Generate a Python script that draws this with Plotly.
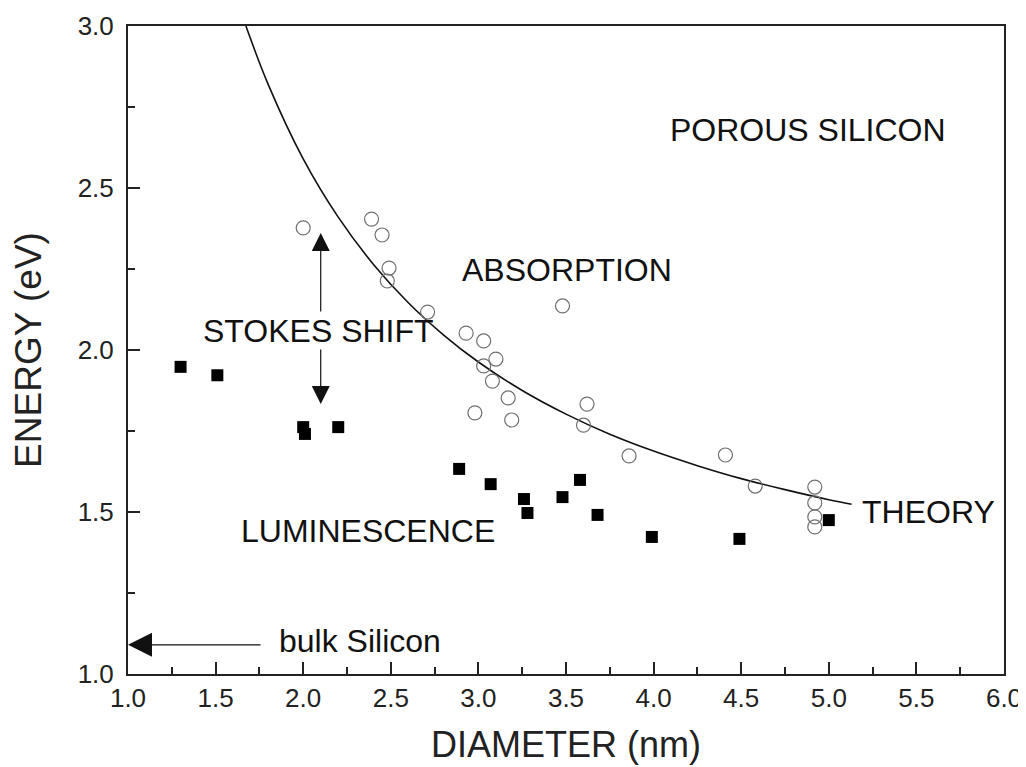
import plotly.graph_objects as go

FONT = "Arial, Liberation Sans, sans-serif"

# Luminescence (filled squares)
lum_d = [1.30, 1.51, 2.00, 2.01, 2.20, 2.89, 3.07, 3.26, 3.28, 3.48, 3.58, 3.68, 3.99, 4.49, 5.00]
lum_e = [1.948, 1.922, 1.762, 1.741, 1.762, 1.633, 1.586, 1.540, 1.497, 1.546, 1.599, 1.491, 1.423, 1.417, 1.475]

# Absorption (open circles)
abs_d = [2.00, 2.39, 2.45, 2.49, 2.48, 2.71, 2.93, 3.03, 3.10, 3.03, 3.08, 3.17, 2.98, 3.19,
         3.48, 3.62, 3.60, 3.86, 4.41, 4.58, 4.92, 4.92, 4.92, 4.92]
abs_e = [2.377, 2.404, 2.355, 2.253, 2.213, 2.117, 2.052, 2.028, 1.972, 1.951, 1.904, 1.852, 1.806, 1.784,
         2.136, 1.833, 1.768, 1.673, 1.676, 1.580, 1.577, 1.528, 1.485, 1.454]

# Theory curve
th_d = [1.673, 1.80, 2.00, 2.20, 2.40, 2.60, 2.80, 3.00, 3.25, 3.50, 3.75, 4.00, 4.25, 4.50, 4.75, 5.00, 5.13]
th_e = [3.000, 2.820, 2.590, 2.410, 2.265, 2.146, 2.047, 1.963, 1.875, 1.802, 1.740, 1.688, 1.643, 1.603, 1.569, 1.538, 1.524]

x_ticks = [1.0, 1.5, 2.0, 2.5, 3.0, 3.5, 4.0, 4.5, 5.0, 5.5, 6.0]
y_ticks = [1.0, 1.5, 2.0, 2.5, 3.0]

fig = go.Figure()
fig.add_trace(go.Scatter(x=th_d, y=th_e, mode="lines", line=dict(color="#111", width=1.6, shape="spline"),
                         showlegend=False, hoverinfo="skip"))
fig.add_trace(go.Scatter(x=abs_d, y=abs_e, mode="markers",
                         marker=dict(symbol="circle-open", size=14, color="#707070", line=dict(width=1.2, color="#707070")),
                         showlegend=False))
fig.add_trace(go.Scatter(x=lum_d, y=lum_e, mode="markers",
                         marker=dict(symbol="square", size=12, color="black"),
                         showlegend=False))

labels = [
    ("POROUS SILICON", 4.082, 2.679),
    ("ABSORPTION", 2.895, 2.247),
    ("STOKES SHIFT", 1.417, 2.059),
    ("LUMINESCENCE", 1.634, 1.441),
    ("THEORY", 5.178, 1.500),
    ("bulk Silicon", 1.850, 1.102),
]
for txt, x, y in labels:
    fig.add_annotation(x=x, y=y, text=txt, showarrow=False, xanchor="left", yanchor="middle",
                       font=dict(family=FONT, size=32, color="#111"))

# arrows: (head x, head y, tail x, tail y, head size)
arrows = [
    (1.0, 1.09, 1.765, 1.09, 4.0),
    (2.10, 2.361, 2.10, 2.114, 3.0),
    (2.10, 1.833, 2.10, 2.006, 3.0),
]
for hx, hy, tx, ty, sz in arrows:
    fig.add_annotation(x=hx, y=hy, ax=tx, ay=ty, xref="x", yref="y", axref="x", ayref="y",
                       showarrow=True, arrowhead=2, arrowsize=sz, arrowwidth=1.2, arrowcolor="#111", text="")

axis_common = dict(showline=True, linecolor="#222", linewidth=2, mirror=True, showgrid=False, zeroline=False,
                   ticks="inside", ticklen=12, tickwidth=2, tickcolor="#222", automargin=False,
                   tickfont=dict(family=FONT, size=26, color="#222"))
fig.update_xaxes(range=[1.0, 6.0], tickvals=x_ticks, ticktext=[f"{v:.1f}" for v in x_ticks],
                 minor=dict(dtick=0.25, ticks="inside", ticklen=7, tickwidth=2, tickcolor="#222"),
                 title=dict(text="DIAMETER (nm)", font=dict(family=FONT, size=36, color="#222"), standoff=20),
                 ticklabelstandoff=0,
                 **axis_common)
fig.update_yaxes(range=[1.0, 3.0], tickvals=y_ticks, ticktext=[f"{v:.1f}" for v in y_ticks],
                 minor=dict(dtick=0.25, ticks="inside", ticklen=7, tickwidth=2, tickcolor="#222"),
                 title=dict(text="ENERGY (eV)", font=dict(family=FONT, size=37, color="#222"), standoff=27),
                 ticklabelstandoff=7,
                 **axis_common)

fig.update_layout(width=1026, height=759, margin=dict(l=120, r=30, t=18, b=93),
                  plot_bgcolor="white", paper_bgcolor="white", showlegend=False)

fig.write_html("out.html")
